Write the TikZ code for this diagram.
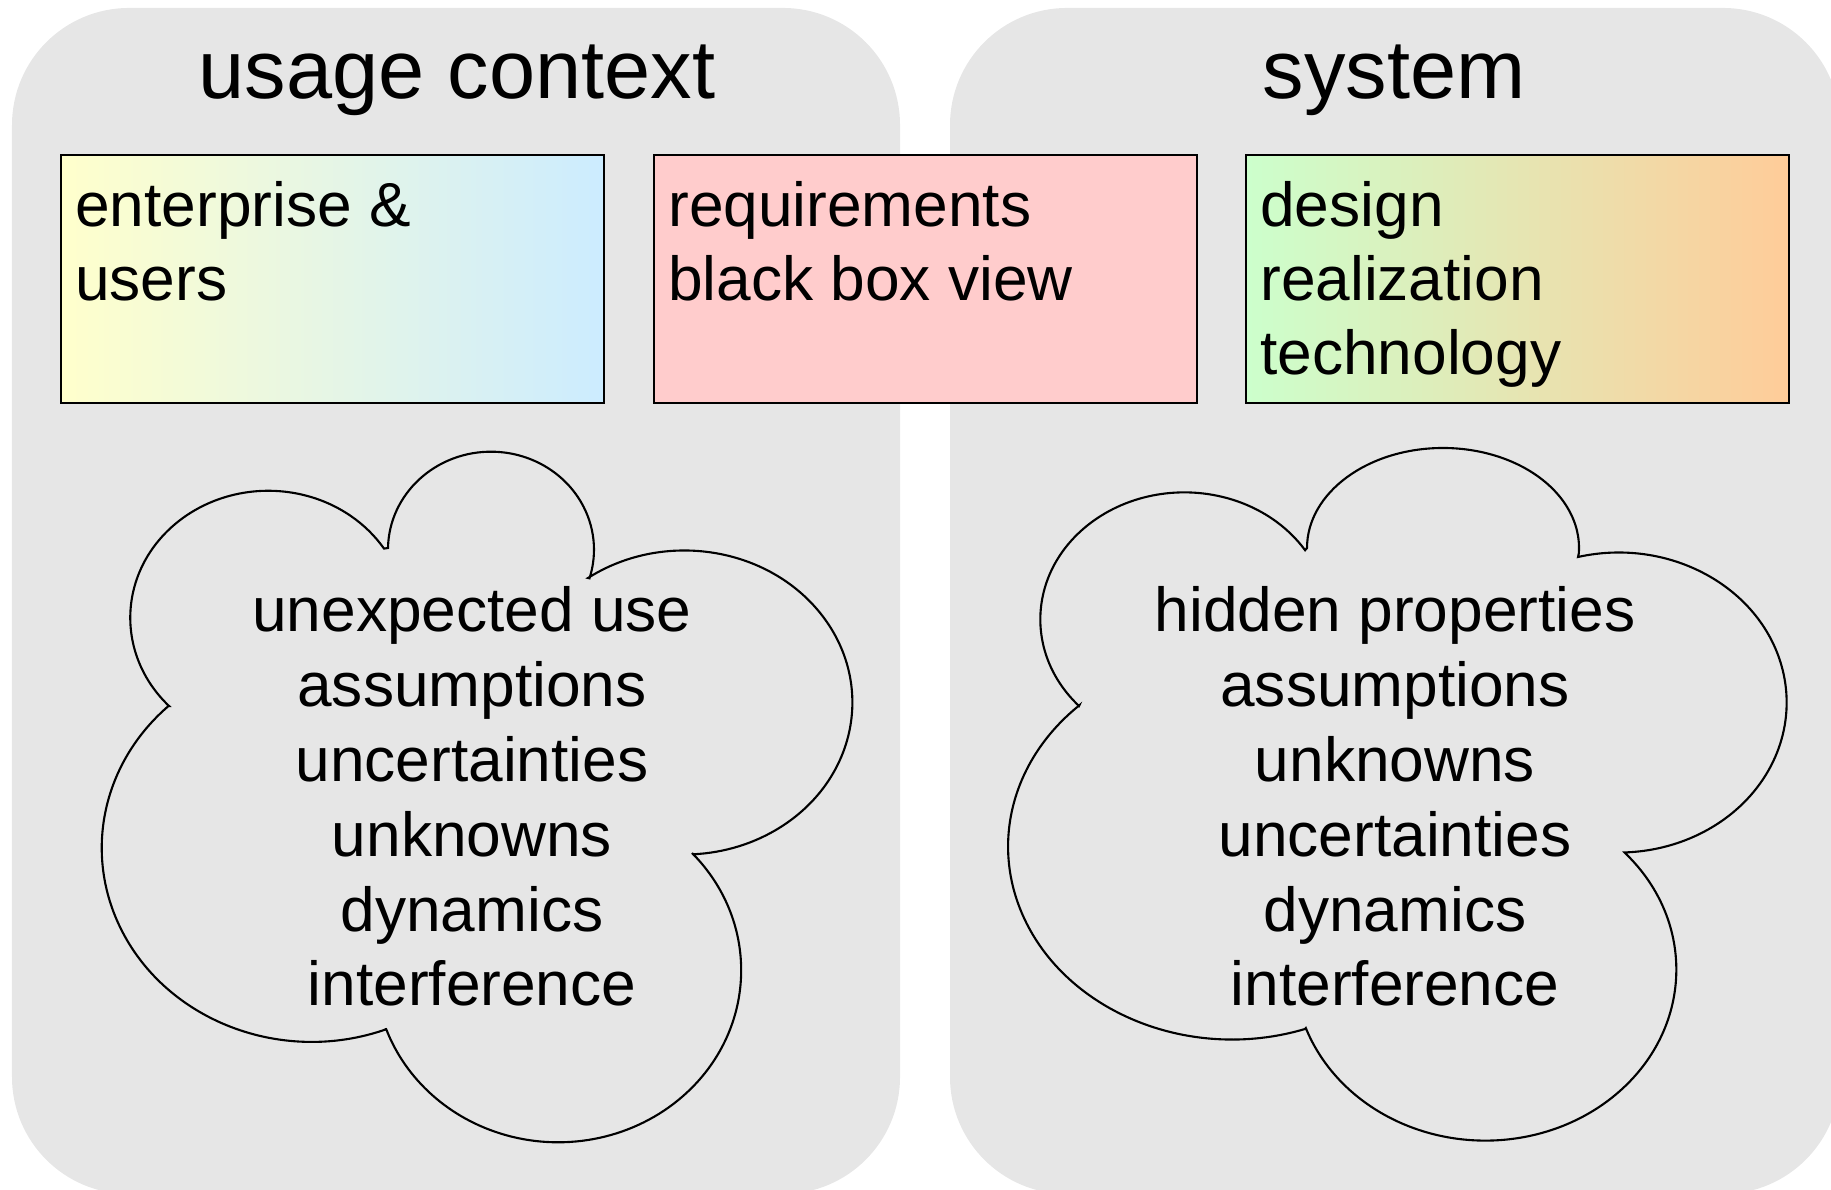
\documentclass[tikz,border=0pt]{standalone}
\usepackage{fontspec}
\setmainfont{Liberation Sans}

\definecolor{panelgray}{HTML}{E6E6E6}
\definecolor{entyellow}{HTML}{FFFFCC}
\definecolor{entblue}{HTML}{CCECFF}
\definecolor{reqpink}{HTML}{FFCCCC}
\definecolor{desgreen}{HTML}{CCFFCC}
\definecolor{desorange}{HTML}{FFCC99}

\tikzset{
	panel/.style={fill=panelgray, rounded corners=1.17cm},
	paneltitle/.style={anchor=base, inner sep=0pt, font=\fontsize{23.6}{28}\selectfont},
	infobox/.style={draw=black, line width=0.8pt, minimum width=5.43cm, minimum height=2.48cm, inner sep=0pt},
	boxtext/.style={anchor=base west, align=left, inner sep=0pt, font=\fontsize{17.7}{21.1}\selectfont},
	cloudline/.style={draw=black, line width=0.6pt},
	cloudtext/.style={anchor=base, align=center, inner sep=0pt, font=\fontsize{17.7}{21.3}\selectfont}
}

\begin{document}
\begin{tikzpicture}
		\useasboundingbox (0,0) rectangle (18.31,11.90);
		\clip (0,0) rectangle (18.31,11.90);
		\fill[panel] (0.12,-0.04) rectangle (9.00,11.82);
		\fill[panel] (9.50,-0.04) rectangle (18.40,11.82);
		\node[paneltitle] (ctxtitle) at (4.57,10.91) {usage context};
		\node[paneltitle] (systitle) at (13.94,10.91) {system};
		\node[infobox, left color=entyellow, right color=entblue] (entbox) at (3.325,9.11) {};
		\node[infobox, fill=reqpink] (reqbox) at (9.255,9.11) {};
		\node[infobox, left color=desgreen, right color=desorange] (desbox) at (15.175,9.11) {};
		\node[boxtext] (enttext) at ([xshift=0.15cm,yshift=-1.47cm]entbox.north west) {enterprise \&\\users};
		\node[boxtext] (reqtext) at ([xshift=0.15cm,yshift=-1.47cm]reqbox.north west) {requirements\\black box view};
		\node[boxtext] (destext) at ([xshift=0.15cm,yshift=-2.21cm]desbox.north west) {design\\realization\\technology};
		\draw[cloudline] (3.88,6.42) arc[start angle=179, end angle=-17, x radius=1.03, y radius=0.98]
			-- (5.88,6.12) arc[start angle=125, end angle=-87, x radius=1.68, y radius=1.52]
			-- (6.92,3.37) arc[start angle=43, end angle=-160, x radius=1.83, y radius=1.72]
			-- (3.87,1.61) arc[start angle=-69, end angle=-227, x radius=2.10, y radius=1.94]
			-- (1.69,4.84) arc[start angle=224, end angle=33, x radius=1.38, y radius=1.27]
			-- cycle;
		\draw[cloudline] (13.07,6.42) arc[start angle=180, end angle=-3, x radius=1.36, y radius=1.00]
			-- (15.78,6.33) arc[start angle=104, end angle=-88, x radius=1.68, y radius=1.50]
			-- (16.25,3.37) arc[start angle=43, end angle=-160, x radius=1.91, y radius=1.71]
			-- (13.05,1.61) arc[start angle=-71, end angle=-227, x radius=2.24, y radius=1.93]
			-- (10.79,4.84) arc[start angle=223, end angle=33, x radius=1.44, y radius=1.27]
			-- cycle;
		\node[cloudtext] (ctxissues) at (4.72,1.84) {unexpected use\\assumptions\\uncertainties\\unknowns\\dynamics\\interference};
		\node[cloudtext] (sysissues) at (13.95,1.84) {hidden properties\\assumptions\\unknowns\\uncertainties\\dynamics\\interference};
	\end{tikzpicture}
\end{document}
